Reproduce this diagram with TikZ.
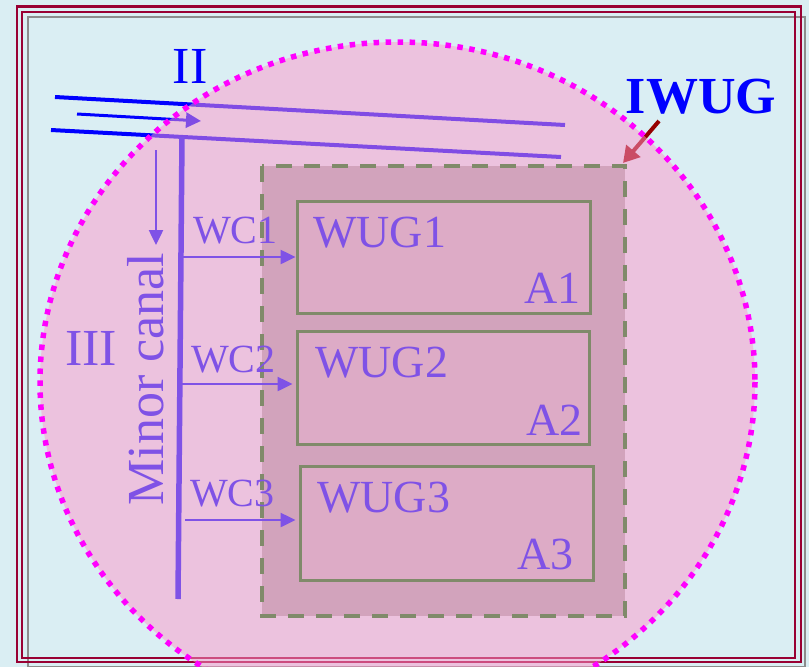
\documentclass[tikz,border=0pt]{standalone}
\usepackage{fontspec}
\setmainfont{Liberation Serif}
\usetikzlibrary{arrows.meta}
\definecolor{bgblue}{RGB}{218,238,243}
\definecolor{framered}{RGB}{153,0,51}
\definecolor{framegray}{RGB}{140,140,140}
\definecolor{canalblue}{RGB}{0,0,255}
\definecolor{pinkov}{RGB}{255,152,203}
\definecolor{arrowred}{RGB}{150,0,0}
\definecolor{purp}{RGB}{127,82,230}
\definecolor{olive}{RGB}{128,138,106}
\definecolor{zonefill}{RGB}{210,163,188}
\definecolor{boxfill}{RGB}{221,171,198}
\definecolor{dotmag}{RGB}{255,0,255}
\tikzset{
  bigtxt/.style={font=\fontsize{52}{56}\selectfont, inner sep=0pt},
  midtxt/.style={font=\fontsize{46}{50}\selectfont, inner sep=0pt, text=purp},
  smalltxt/.style={font=\fontsize{40}{44}\selectfont, inner sep=0pt, text=purp},
  wugbox/.style={draw=olive, line width=3pt, fill=boxfill, inner sep=0pt},
  flowarrow/.style={purp, line width=2.5pt, -{Triangle[length=15pt,width=14pt]}},
}
\begin{document}
\begin{tikzpicture}[x=1pt,y=-1pt]
\useasboundingbox (0,0) rectangle (809,667);
\fill[bgblue] (0,0) rectangle (809,667);
% frames
\draw[framegray, line width=2.5pt] (28,17) rectangle (805,667);
\draw[framered, line width=2.2pt] (17,6.5) rectangle (801,662);
\draw[framered, line width=2.7pt] (22,12) rectangle (795,658);
% main canal lines (under the overlay)
\coordinate (t1) at (55,97);
\coordinate (t2) at (565,125);
\coordinate (b1) at (51,130);
\coordinate (b2) at (561,157);
\coordinate (m1) at (77,114);
\coordinate (m2) at (201,121);
\draw[canalblue, line width=4pt] (t1) -- (t2);
\draw[canalblue, line width=4pt] (b1) -- (b2);
\draw[canalblue, line width=3pt, -{Triangle[length=15pt,width=15pt]}] (m1) -- (m2);
% IWUG pointer
\coordinate (p1) at (659,121);
\coordinate (p2) at (623,163);
\draw[arrowred, line width=4pt, -{Triangle[length=16pt,width=18pt]}] (p1) -- (p2);
% translucent area
\fill[pinkov, opacity=0.5] (397.5,382) ellipse [x radius=357.5, y radius=340];
\draw[dotmag, line width=5.5pt, dash pattern=on 5.5pt off 6.5pt] (397.5,382) ellipse [x radius=357.5, y radius=340];
% zone
\draw[olive, fill=zonefill, line width=4pt, dash pattern=on 16pt off 12pt] (262,166) rectangle (625,616);
% WUG boxes
\node[wugbox, minimum width=293pt, minimum height=112pt] (w1) at (443.5,257) {};
\node[wugbox, minimum width=292pt, minimum height=113pt] (w2) at (443,387.5) {};
\node[wugbox, minimum width=293pt, minimum height=114pt] (w3) at (446.5,523) {};
\node[midtxt, anchor=base west] (w1t) at (313,247) {WUG1};
\node[midtxt, anchor=base east] (a1) at (581,303) {A1};
\node[midtxt, anchor=base west] (w2t) at (315,377) {WUG2};
\node[midtxt, anchor=base east] (a2) at (583,435) {A2};
\node[midtxt, anchor=base west] (w3t) at (317,512) {WUG3};
\node[midtxt, anchor=base east] (a3) at (574,569) {A3};
% minor canal
\coordinate (v1) at (182,137);
\coordinate (v2) at (178,599);
\draw[purp, line width=5.5pt] (v1) -- (v2);
\coordinate (d1) at (156,150);
\coordinate (d2) at (156,245);
\draw[purp, line width=2.5pt, -{Triangle[length=15pt,width=14pt]}] (d1) -- (d2);
\node[bigtxt, text=purp, rotate=90, anchor=base] (mc) at (163,379) {Minor canal};
% water courses
\coordinate (c1) at (182,257);
\coordinate (c2) at (181,384);
\coordinate (c3) at (185,520);
\draw[flowarrow] (c1) -- (w1.west |- c1);
\draw[flowarrow] (c2) -- ([xshift=-3pt]w2.west |- c2);
\draw[flowarrow] (c3) -- ([xshift=-3pt]w3.west |- c3);
\node[smalltxt, anchor=base west] (wc1) at (193,243) {WC1};
\node[smalltxt, anchor=base west] (wc2) at (191,372) {WC2};
\node[smalltxt, anchor=base west] (wc3) at (190,506) {WC3};
% labels
\node[bigtxt, text=canalblue, anchor=base] (ii) at (190,83) {II};
\node[bigtxt, text=purp, anchor=base] (iii) at (91,365) {III};
\node[bigtxt, text=canalblue, anchor=base, font=\fontsize{52}{56}\selectfont\bfseries] (iwug) at (701,113) {IWUG};
\end{tikzpicture}
\end{document}
